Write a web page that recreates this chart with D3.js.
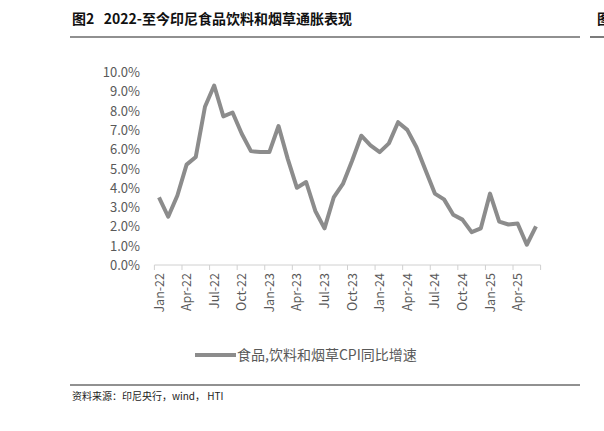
<!DOCTYPE html>
<meta charset="utf-8" />
<title>CPI</title>
<script src="https://cdn.jsdelivr.net/npm/d3@7"></script>
<style>
body { margin:0; background:#fff; }
text { font-family: "Noto Sans CJK SC", "Liberation Sans", sans-serif; }
</style>
<svg id="c" width="604" height="431"></svg>
<script>
var months = ['Jan-22','Feb-22','Mar-22','Apr-22','May-22','Jun-22','Jul-22','Aug-22','Sep-22','Oct-22','Nov-22','Dec-22',
  'Jan-23','Feb-23','Mar-23','Apr-23','May-23','Jun-23','Jul-23','Aug-23','Sep-23','Oct-23','Nov-23','Dec-23',
  'Jan-24','Feb-24','Mar-24','Apr-24','May-24','Jun-24','Jul-24','Aug-24','Sep-24','Oct-24','Nov-24','Dec-24',
  'Jan-25','Feb-25','Mar-25','Apr-25','May-25','Jun-25'];
var cpi = [3.5,2.5,3.6,5.2,5.6,8.2,9.3,7.7,7.9,6.8,5.9,5.85,
  5.85,7.2,5.5,4.0,4.3,2.8,1.9,3.5,4.2,5.4,6.7,6.2,
  5.85,6.3,7.4,7.0,6.1,4.9,3.7,3.4,2.6,2.35,1.7,1.9,
  3.7,2.25,2.1,2.15,1.05,2.0];
var yTicks = [0,1,2,3,4,5,6,7,8,9,10];

var svg = d3.select('#c');
// title + rules
svg.append('text').attr('x',72).attr('y',24).attr('font-size',14).attr('font-weight','bold').attr('fill','#111')
  .attr('xml:space','preserve').text('图2   2022-至今印尼食品饮料和烟草通胀表现');
svg.append('line').attr('x1',70).attr('x2',580).attr('y1',37).attr('y2',37).attr('stroke','#222').attr('stroke-width',1.2);
svg.append('line').attr('x1',70).attr('x2',580).attr('y1',385).attr('y2',385).attr('stroke','#222').attr('stroke-width',1);
svg.append('text').attr('x',597).attr('y',24).attr('font-size',14).attr('font-weight','bold').attr('fill','#111').text('图');
svg.append('line').attr('x1',590).attr('x2',604).attr('y1',37).attr('y2',37).attr('stroke','#222').attr('stroke-width',1.2);
svg.append('text').attr('x',72).attr('y',400).attr('font-size',10).attr('fill','#222')
  .attr('xml:space','preserve').text('资料来源：印尼央行，wind， HTI');

var x = d3.scalePoint().domain(months).range([159,536]);
var y = d3.scaleLinear().domain([0,10]).range([265,72]);

// y axis labels
svg.append('g').selectAll('text').data(yTicks).join('text')
  .attr('x',140).attr('y',d=>y(d)+5).attr('text-anchor','end').attr('font-size',13).attr('fill','#595959')
  .attr('font-family','Liberation Sans, sans-serif')
  .text(d=>d.toFixed(1)+'%');

// x axis
var step = x.step();
svg.append('line').attr('x1',x(months[0])-step/2).attr('x2',x(months[41])+step/2).attr('y1',y(0)).attr('y2',y(0))
  .attr('stroke','#d0d0d0');
var tickMonths = months.filter((m,i)=>i%3===0);
svg.append('g').selectAll('line').data(tickMonths.concat(['end'])).join('line')
  .attr('x1',d=>d==='end'?x(months[41])+step/2:x(d)-step/2).attr('x2',d=>d==='end'?x(months[41])+step/2:x(d)-step/2)
  .attr('y1',y(0)).attr('y2',y(0)+5).attr('stroke','#d0d0d0');
svg.append('g').selectAll('text').data(tickMonths).join('text')
  .attr('transform',d=>'translate('+(x(d)+4.5)+','+(y(0)+8)+') rotate(-90)')
  .attr('text-anchor','end').attr('font-size',12.5).attr('fill','#595959')
  .attr('font-family','Liberation Sans, sans-serif')
  .text(d=>d);

// line
svg.append('path').datum(cpi)
  .attr('d', d3.line().x((d,i)=>x(months[i])).y(d=>y(d)))
  .attr('fill','none').attr('stroke','#8c8c8c').attr('stroke-width',4).attr('stroke-linejoin','round');

// legend
svg.append('line').attr('x1',195).attr('x2',236).attr('y1',355).attr('y2',355).attr('stroke','#8c8c8c').attr('stroke-width',4);
svg.append('text').attr('x',237).attr('y',360).attr('font-size',14).attr('fill','#595959')
  .text('食品,饮料和烟草CPI同比增速');
</script>
